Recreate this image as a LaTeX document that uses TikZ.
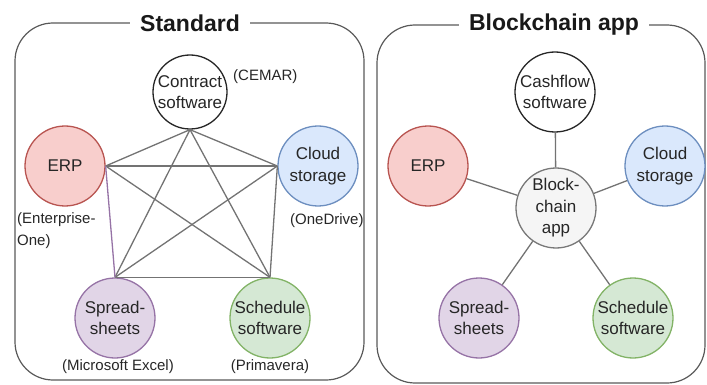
\documentclass[tikz,border=0pt]{standalone}
\usepackage{fontspec}
\setmainfont{Liberation Sans}
\begin{document}
\begin{tikzpicture}[x=1pt,y=-1pt,
  frame/.style={draw=black!65, line width=1.2pt, rounded corners=38pt},
  ftitle/.style={fill=white, inner xsep=10pt, inner ysep=2pt, font=\fontsize{23}{26}\selectfont\bfseries, text=black!90},
  circ/.style={circle, line width=1.3pt, inner sep=0pt, minimum size=80pt},
  txt/.style={align=center, inner sep=0pt, text=black!85, font=\fontsize{17}{21.5}\selectfont},
  note/.style={inner sep=0pt, text=black!85, font=\fontsize{15}{22}\selectfont},
  link/.style={draw=black!55, line width=1.3pt},
  plain/.style={circ, draw=black!85, fill=white},
  erp/.style={circ, fill={rgb,255:red,248;green,206;blue,204}, draw={rgb,255:red,184;green,84;blue,80}},
  cloud/.style={circ, fill={rgb,255:red,218;green,232;blue,252}, draw={rgb,255:red,108;green,142;blue,191}},
  sheet/.style={circ, fill={rgb,255:red,225;green,213;blue,231}, draw={rgb,255:red,150;green,115;blue,166}},
  sched/.style={circ, fill={rgb,255:red,213;green,232;blue,212}, draw={rgb,255:red,130;green,179;blue,102}},
  hub/.style={circ, fill={rgb,255:red,245;green,245;blue,245}, draw={rgb,255:red,120;green,120;blue,120}},
]
\useasboundingbox (0,0) rectangle (707,385);

% ---------- left panel: every system linked to every other ----------
\draw[frame] (15,23) rectangle (364,380);
\node[ftitle] (t1) at (190,23) {Standard};

\node[plain, minimum size=74pt, label={[txt]center:Contract\\software}] (c1) at (190,92) {};
\node[erp, label={[txt]center:ERP}] (e1) at (65,166) {};
\node[cloud, label={[txt]center:Cloud\\storage}] (k1) at (318,166) {};
\node[sheet, label={[txt]center:Spread-\\sheets}] (s1) at (115,318) {};
\node[sched, label={[txt]center:Schedule\\software}] (p1) at (270,318) {};

\draw[link] (c1.south) -- (e1.east);
\draw[link] (c1.south) -- (k1.west);
\draw[link] (c1.south) -- (s1.north);
\draw[link] (c1.south) -- (p1.north);
\draw[link] (e1.east) -- (k1.west);
\draw[link] (e1.east) -- (p1.north);
\draw[link] (k1.west) -- (s1.north);
\draw[link] (k1.west) -- (p1.north);
\draw[link] (s1.north) -- (p1.north);
\draw[link, draw={rgb,255:red,150;green,115;blue,166}] (e1.east) -- (s1.north);

\node[note, anchor=west] (n1) at (233,77) {(CEMAR)};
\node[note, anchor=north west, align=left] (n2) at (17,212) {(Enterprise-\\One)};
\node[note, anchor=west] (n3) at (290,221) {(OneDrive)};
\node[note] (n4) at (118,367) {(Microsoft Excel)};
\node[note] (n5) at (270,367) {(Primavera)};

% ---------- right panel: systems linked through one hub ----------
\draw[frame] (377,25) rectangle (705,383);
\node[ftitle] (t2) at (554,25) {Blockchain app};

\node[hub, label={[txt]center:Block-\\chain\\app}] (h2) at (556,208) {};
\node[plain, label={[txt]center:Cashflow\\software}] (c2) at (555,92) {};
\node[erp, label={[txt]center:ERP}] (e2) at (428,166) {};
\node[cloud, label={[txt]center:Cloud\\storage}] (k2) at (665,166) {};
\node[sheet, label={[txt]center:Spread-\\sheets}] (s2) at (479,318) {};
\node[sched, label={[txt]center:Schedule\\software}] (p2) at (633,318) {};

\draw[link] (h2) -- (c2);
\draw[link] (h2) -- (e2);
\draw[link] (h2) -- (k2);
\draw[link] (h2) -- (s2);
\draw[link] (h2) -- (p2);
\end{tikzpicture}
\end{document}
